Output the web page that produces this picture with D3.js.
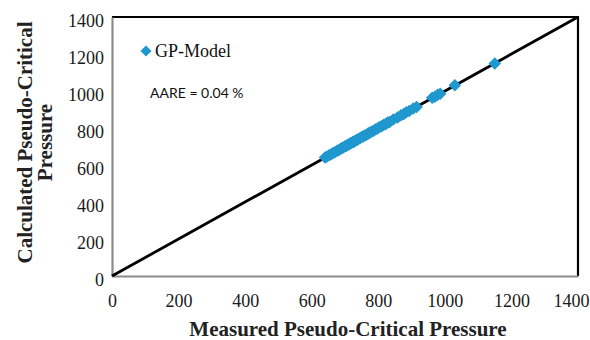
<!DOCTYPE html>
<html><head><meta charset="utf-8">
<script src="https://cdn.jsdelivr.net/npm/d3@7"></script>
<style>body{margin:0;background:#fff}svg{display:block}
.ax text{font-family:"Liberation Serif","Times New Roman",serif;font-size:18px;fill:#1a1a1a}
</style>
</head><body>
<svg id="c" width="590" height="340"></svg>
<script>
const measured = [640,645,652,658,664,670,676,681,686,690,695,700,704,708,712,716,720,724,728,732,736,740,745,750,755,760,765,770,775,780,786,792,798,804,810,816,822,828,834,845,858,868,876,884,893,905,915,962,970,978,986,1030,1150];
const calculated = [641,644,653,657,665,669,677,680,687,691,694,701,703,709,711,717,719,725,727,733,735,741,744,751,754,761,764,771,774,781,785,793,797,805,809,817,821,829,833,846,857,869,875,885,892,906,914,963,969,979,985,1031,1149];
const xTicks = [0,200,400,600,800,1000,1200,1400];
const yTicks = [0,200,400,600,800,1000,1200,1400];
const seriesName = "GP-Model";
const annotation = "AARE = 0.04 %";
const xTitle = "Measured Pseudo-Critical Pressure";
const yTitle = ["Calculated Pseudo-Critical", "Pressure"];

const svg = d3.select("#c");
const L = 112, R = 578, T = 17, B = 276;
const x = d3.scaleLinear().domain([0,1400]).range([L,R]);
const y = d3.scaleLinear().domain([0,1400]).range([B,T]);
const color = "#1f97cf";
const serif = "'Liberation Serif', 'Times New Roman', serif";

// plot border (top/right black)
svg.append("line").attr("x1",L).attr("x2",R+1).attr("y1",T).attr("y2",T).attr("stroke","#000").attr("stroke-width",2.2);
svg.append("line").attr("x1",R).attr("x2",R).attr("y1",T).attr("y2",B).attr("stroke","#000").attr("stroke-width",2.2);

// axes
const xa = svg.append("g").attr("class","ax").attr("transform",`translate(0,${B})`)
  .call(d3.axisBottom(x).tickValues(xTicks).tickSize(0).tickPadding(14).tickFormat(d3.format("d")));
const ya = svg.append("g").attr("class","ax").attr("transform",`translate(${L},0)`)
  .call(d3.axisLeft(y).tickValues(yTicks).tickSize(0).tickPadding(8).tickFormat(d3.format("d")));
[xa,ya].forEach(a=>{
  a.attr("font-family",serif).attr("font-size",18);
  a.select(".domain").attr("stroke","#8c8c8c").attr("stroke-width",2.2);
});
ya.selectAll("text").attr("dy","0.5em");
xa.selectAll("text").attr("dy","0.95em");
xa.selectAll(".tick").filter(d=>d===1400).select("text").attr("text-anchor","end").attr("x",11);

// diagonal
svg.append("line").attr("x1",x(0)).attr("y1",y(0)).attr("x2",x(1400)).attr("y2",y(1400))
  .attr("stroke","#000").attr("stroke-width",2.8);

// points
const diamond = d3.symbol().type(d3.symbolDiamond2).size(100);
svg.append("g").selectAll("path").data(measured.map((m,i)=>[m,calculated[i]])).join("path")
  .attr("d",diamond).attr("transform",d=>`translate(${x(d[0])},${y(d[1])})`)
  .attr("fill",color);

// legend
svg.append("path").attr("d",d3.symbol().type(d3.symbolDiamond2).size(80)).attr("transform","translate(146,51)").attr("fill",color);
svg.append("text").attr("x",155).attr("y",57).text(seriesName)
  .style("font-family",serif).style("font-size","18px").attr("fill","#111");
svg.append("text").attr("x",150).attr("y",98).text(annotation)
  .style("font-family","Lato, 'Open Sans', sans-serif").style("font-size","14px").attr("fill","#111");

// titles
svg.append("text").attr("x",348).attr("y",336).attr("text-anchor","middle").text(xTitle)
  .style("font-family",serif).style("font-weight","bold").style("font-size","21px").attr("fill","#222");
const yt = svg.append("text").attr("transform",`translate(0,${(T+B)/2-4}) rotate(-90)`)
  .attr("text-anchor","middle").style("font-family",serif).style("font-weight","bold").style("font-size","21px").attr("fill","#222");
yt.append("tspan").attr("x",0).attr("y",32).text(yTitle[0]);
yt.append("tspan").attr("x",0).attr("y",52).text(yTitle[1]);
</script>
</body></html>
